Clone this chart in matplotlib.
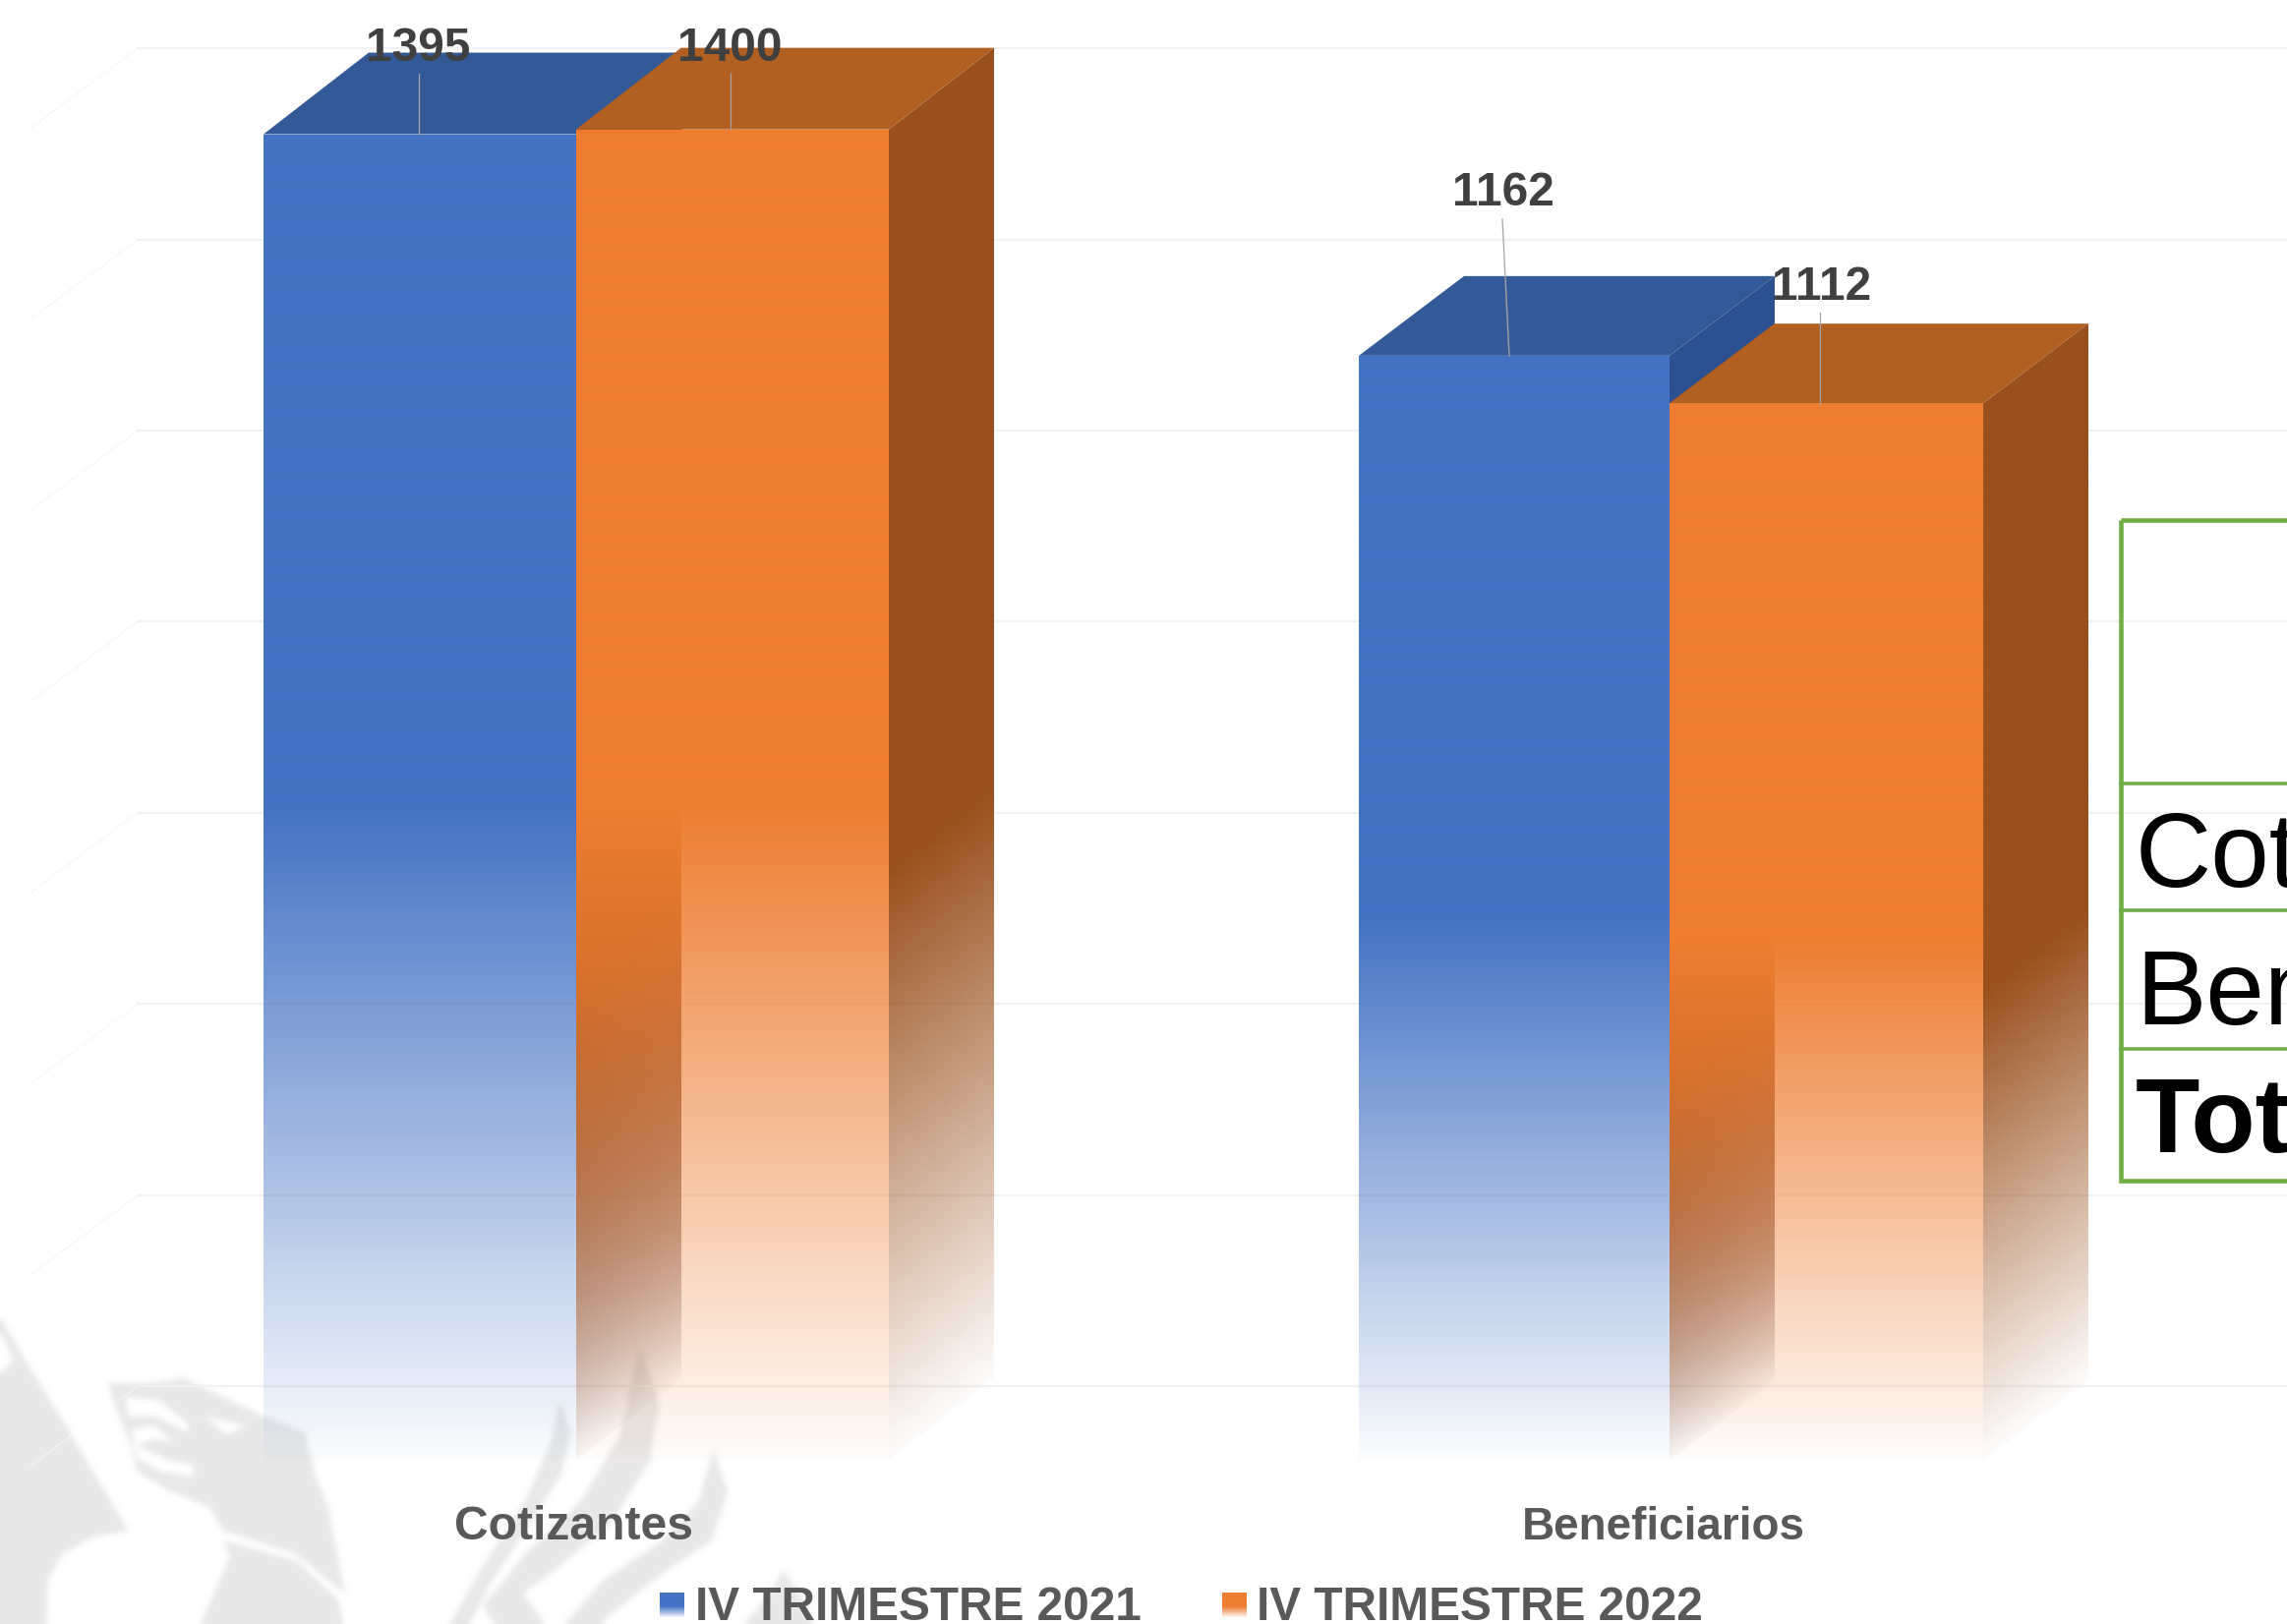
import numpy as np
import matplotlib
matplotlib.use('Agg')
import matplotlib.pyplot as plt
from matplotlib.patches import Polygon, Rectangle
from matplotlib.path import Path

plt.rcParams['font.family'] = ['Liberation Sans', 'DejaVu Sans']

# data
categories = ['Cotizantes', 'Beneficiarios']
series_names = ['IV TRIMESTRE 2021', 'IV TRIMESTRE 2022']
values_2021 = [1395, 1162]
values_2022 = [1400, 1112]
grid_values = [0, 200, 400, 600, 800, 1000, 1200, 1400]
table_rows = ['Cotizantes', 'Beneficiarios', 'Total']

BLUE = '#4472C4'
BLUE_TOP = '#335A96'
BLUE_SIDE = '#2C5090'
ORANGE = '#EE7D31'
ORANGE_TOP = '#B16022'
ORANGE_SIDE = '#9A501D'
WM = '#e8e8e8'

W, H = 2326, 1652
PX = 0.967     # pixels per unit
BASE = 1485.5  # pixel row of value 0, front of the bars
DEPTH_X = 107

fig = plt.figure(figsize=(W / 100, H / 100), dpi=100, facecolor='white')


def z5(pts):
    return [(x / 3, 1300 + y / 3) for x, y in pts]


def z6(pts):
    return [(440 + x / 3, 1360 + y / 3) for x, y in pts]


# watermark shapes, traced by eye
wm_grey = [
    z5([(0, 120), (100, 290), (200, 450), (390, 770), (280, 790), (190, 840), (145, 920), (140, 1056), (0, 1056)]),
    z5([(330, 320), (450, 320), (560, 305), (800, 420), (930, 470), (960, 600), (1000, 700), (1050, 960),
        (900, 840), (680, 770), (640, 700), (500, 640), (420, 590), (390, 490), (350, 390)]),
    z5([(680, 800), (900, 860), (1030, 980), (1045, 1056), (610, 1056), (700, 850)]),
    z6([(385, 190), (420, 290), (390, 420), (300, 560), (170, 760), (110, 876), (50, 876), (150, 700),
        (280, 500), (360, 320)]),
    z6([(630, 25), (690, 200), (660, 380), (540, 570), (370, 710), (275, 780), (340, 876), (190, 876),
        (150, 820), (300, 640), (450, 500), (570, 300)]),
    z6([(855, 345), (900, 470), (850, 620), (700, 720), (560, 830), (510, 876), (400, 876), (520, 740),
        (700, 620), (810, 500)]),
    z6([(1070, 710), (1130, 800), (1160, 876), (950, 876), (1020, 790)]),
]
wm_white = [
    z5([(0, 165), (40, 250), (0, 290)]),
    z5([(380, 360), (480, 370), (570, 440), (570, 470), (470, 420), (390, 420)]),
    z5([(400, 460), (470, 450), (530, 500), (470, 490), (410, 510)]),
    z5([(400, 500), (500, 550), (590, 570), (590, 605), (490, 590), (420, 550)]),
    z5([(620, 420), (750, 450), (690, 475)]),
]

wm = fig.add_axes([0, 0, 1, 1], zorder=0)
wm.axis('off')
gx, gy = np.meshgrid(np.arange(0, 1000), np.arange(1300, 1652))
pts = np.column_stack([gx.ravel(), gy.ravel()])
mask = np.zeros(gx.shape)
for poly in wm_grey:
    mask[Path(poly).contains_points(pts).reshape(gx.shape)] = 1
for poly in wm_white:
    mask[Path(poly).contains_points(pts).reshape(gx.shape)] = 0
# soft edges, the original looks like a blurred logo
k = np.ones(7) / 7
for _ in range(2):
    pad = np.pad(mask, 3, mode='edge')
    mask = np.apply_along_axis(lambda r: np.convolve(r, k, mode='valid'), 1, pad)[3:-3]
    pad = np.pad(mask, ((3, 3), (0, 0)), mode='edge')
    mask = np.apply_along_axis(lambda r: np.convolve(r, k, mode='valid'), 0, pad)
rgba = np.zeros(mask.shape + (4,))
rgba[..., :3] = matplotlib.colors.to_rgb(WM)
rgba[..., 3] = mask
wm.imshow(rgba, aspect='auto', extent=(0, 1000, 1652, 1300), interpolation='bilinear')
wm.set_xlim(0, W)
wm.set_ylim(H, 0)

# chart axes, y runs in value units
ax = fig.add_axes([0, 0, 1, 1], zorder=1)
ax.patch.set_alpha(0)
ax.axis('off')
ax.set_xlim(0, W)
ax.set_ylim((BASE - H) / PX, BASE / PX)


def back_y(v):
    # back wall gridlines sit on a slightly different scale
    return (BASE - (1410 - v * 0.972)) / PX


for g in grid_values:
    y = back_y(g)
    ax.plot([140, W], [y, y], color='#f1f1f1', lw=1.6, zorder=1)
    ax.plot([140, 30], [y, y - 82 / PX], color='white' if g == 0 else '#f0f0f0', lw=0.7,
            ls=(0, (2, 1.5)), zorder=1)


def face(x0, x1, top0, top1, bot0, bot1, color, zorder, fade):
    # parallelogram that fades out towards its foot
    xs = np.linspace(x0, x1, max(int(x1 - x0), 2))
    vs = np.linspace(min(bot0, bot1), max(top0, top1), 700)
    xx, vv = np.meshgrid(xs, vs)
    t = (xx - x0) / (x1 - x0)
    bot = bot0 + (bot1 - bot0) * t
    top = top0 + (top1 - top0) * t
    h = (vv - bot) / (top - bot)
    rgba = np.zeros(xx.shape + (4,))
    rgba[..., :3] = matplotlib.colors.to_rgb(color)
    rgba[..., 3] = np.clip(0.02 + h / fade, 0, 1)
    im = ax.imshow(rgba, origin='lower', aspect='auto', interpolation='bilinear', zorder=zorder,
                   extent=(x0, x1, vs[0], vs[-1]))
    im.set_clip_path(Polygon([(x0, bot0), (x0, top0), (x1, top1), (x1, bot1)], transform=ax.transData))


def draw_group(xl, xm, xr, v1, v2, depth_px):
    # blue bar left, orange bar right, back to front
    d = depth_px / PX
    face(xm, xm + DEPTH_X, v1, v1 + d, 0, d, BLUE_SIDE, 2, 0.38)
    ax.add_patch(Polygon([(xl, v1), (xm, v1), (xm + DEPTH_X, v1 + d), (xl + DEPTH_X, v1 + d)],
                         color=BLUE_TOP, lw=0, zorder=2.1))
    face(xm, xm + DEPTH_X, v2, v2 + d, 0, d, ORANGE_SIDE, 3, 0.38)
    face(xr, xr + DEPTH_X, v2, v2 + d, 0, d, ORANGE_SIDE, 3.1, 0.45)
    ax.add_patch(Polygon([(xm, v2), (xr, v2), (xr + DEPTH_X, v2 + d), (xm + DEPTH_X, v2 + d)],
                         color=ORANGE_TOP, lw=0, zorder=3.2))
    face(xl, xm, v1, v1, 0, 0, BLUE, 4, 0.5)
    face(xm, xr, v2, v2, 0, 0, ORANGE, 4.1, 0.5)


draw_group(268, 586, 904, values_2021[0], values_2022[0], 83)
draw_group(1382, 1698, 2017, values_2021[1], values_2022[1], 81)
ax.set_xlim(0, W)
ax.set_ylim((BASE - H) / PX, BASE / PX)

# texts, leader lines, table: pixels again
top = fig.add_axes([0, 0, 1, 1], zorder=2)
top.patch.set_alpha(0)
top.axis('off')
top.set_xlim(0, W)
top.set_ylim(H, 0)

label_x = [425, 742, 1529, 1853]
label_base = [62, 62, 209, 305]
leaders = [((426, 75), (426, 136)), ((743, 75), (743, 131)), ((1528, 223), (1535, 362)), ((1851, 318), (1851, 411))]
labels = [values_2021[0], values_2022[0], values_2021[1], values_2022[1]]
for x, yb, (p0, p1), val in zip(label_x, label_base, leaders, labels):
    top.plot([p0[0], p1[0]], [p0[1], p1[1]], color='#a6a6a6', lw=0.9)
    top.text(x, yb, str(val), ha='center', va='baseline', fontsize=34.5, fontweight='bold', color='#404040')

for name, x, size in zip(categories, [584, 1692], [34.6, 33]):
    top.text(x, 1566, name, ha='center', va='baseline', fontsize=size, fontweight='bold', color='#595959')

# legend
for name, color, xs, xt in zip(series_names, [BLUE, ORANGE], [671, 1243], [707, 1278]):
    a = np.clip((1645 - np.linspace(1620, 1645, 25)) / 12 + 0.1, 0, 1)
    swatch = np.zeros((25, 1, 4))
    swatch[..., :3] = matplotlib.colors.to_rgb(color)
    swatch[:, 0, 3] = a
    top.imshow(swatch, aspect='auto', extent=(xs, xs + 25, 1645, 1620), interpolation='bilinear')
    top.text(xt, 1648, name, ha='left', va='baseline', fontsize=34.4, fontweight='bold', color='#595959')
top.set_xlim(0, W)
top.set_ylim(H, 0)

# table, runs off the right edge
GREEN = '#70AD47'
top.add_patch(Rectangle((2157, 529), 400, 672, fill=False, ec=GREEN, lw=3.3))
for y in [797, 926, 1067]:
    top.plot([2157, W], [y, y], color=GREEN, lw=2.6)
for name, yb, weight in zip(table_rows, [902, 1042, 1172], ['normal', 'normal', 'bold']):
    top.text(2172, yb, name, ha='left', va='baseline', fontsize=77, fontweight=weight, color='black', clip_on=True)

fig.savefig('out.png', dpi=100)
